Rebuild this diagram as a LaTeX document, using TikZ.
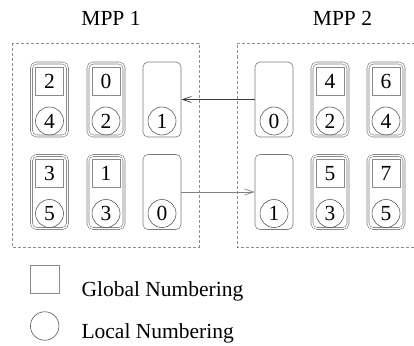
\documentclass[tikz,border=0pt]{standalone}
\usepackage{fontspec}
\setmainfont{Liberation Serif}
\usetikzlibrary{arrows.meta}
\definecolor{cellgray}{HTML}{7A7A7A}
\definecolor{boxgray}{HTML}{8A8A8A}
\definecolor{ringgray}{HTML}{5A5A5A}
\definecolor{dashgray}{HTML}{8C8C8C}
\definecolor{arrowdark}{HTML}{3C3C3C}
\definecolor{arrowlight}{HTML}{808080}
\begin{document}
\begin{tikzpicture}[x=1pt,y=-1pt,
  lbl/.style={font=\fontsize{21.5}{24}\selectfont},
  cellbox/.style={draw=cellgray, rounded corners=5pt, minimum width=38pt,
    minimum height=75pt, line width=0.6pt, inner sep=0pt},
  fullcell/.style={cellbox, double=white, double distance=1.4pt,
    minimum width=36pt, minimum height=73pt},
  gnum/.style={draw=boxgray, minimum width=28pt, minimum height=28pt,
    inner sep=0pt, line width=0.6pt, lbl},
  lnum/.style={circle, draw=ringgray, minimum size=28pt, inner sep=0pt,
    line width=0.6pt, lbl},
  region/.style={draw=dashgray, dash pattern=on 3pt off 2pt, line width=0.8pt},
  link/.style={-{Straight Barb[length=9pt,width=6pt]}, line width=0.7pt}
]
\useasboundingbox (0,0) rectangle (414,345);

% processor titles
\node[lbl, anchor=base] (t1) at (111,26) {MPP 1};
\node[lbl, anchor=base] (t2) at (342.5,26) {MPP 2};

% processor regions
\draw[region] (12,43) rectangle (199,247);
\draw[region] (414.5,43) -- (237,43) -- (237,247) -- (414.5,247);

% owned vertices: global number on top, local number below
\foreach \nm/\x/\y/\g/\l in {L11/49.5/99.5/2/4, L12/106/99.5/0/2,
    L21/49.5/192/3/5, L22/106/192/1/3,
    R12/330/99.5/4/2, R13/386/99.5/6/4,
    R22/330/192/5/3, R23/386/192/7/5}{
  \node[fullcell] (\nm) at (\x,\y) {};
  \node[gnum] (\nm g) at (\x,\y-18.5) {\g};
  \node[lnum] (\nm l) at (\x,\y+21.5) {\l};
}

% ghost vertices: local number only
\foreach \nm/\x/\y/\l in {L13/162/99.5/1, L23/162/192/0,
    R11/274/99.5/0, R21/274/192/1}{
  \node[cellbox] (\nm) at (\x,\y) {};
  \node[lnum] (\nm l) at (\x,\y+21.5) {\l};
}

% communication between ghosts and owners
\draw[link, draw=arrowdark] (R11.west) -- (L13.east);
\draw[link, draw=arrowlight] (L23.east) -- (R21.west);

% legend
\node[gnum, minimum width=29pt] (lgsq) at (44.5,279) {};
\node[lbl, anchor=base west] (lgtxt1) at (78,296) {Global Numbering};
\node[lnum, minimum size=28.5pt] (lgci) at (44.7,326) {};
\node[lbl, anchor=base west] (lgtxt2) at (78,338) {Local Numbering};
\end{tikzpicture}
\end{document}
